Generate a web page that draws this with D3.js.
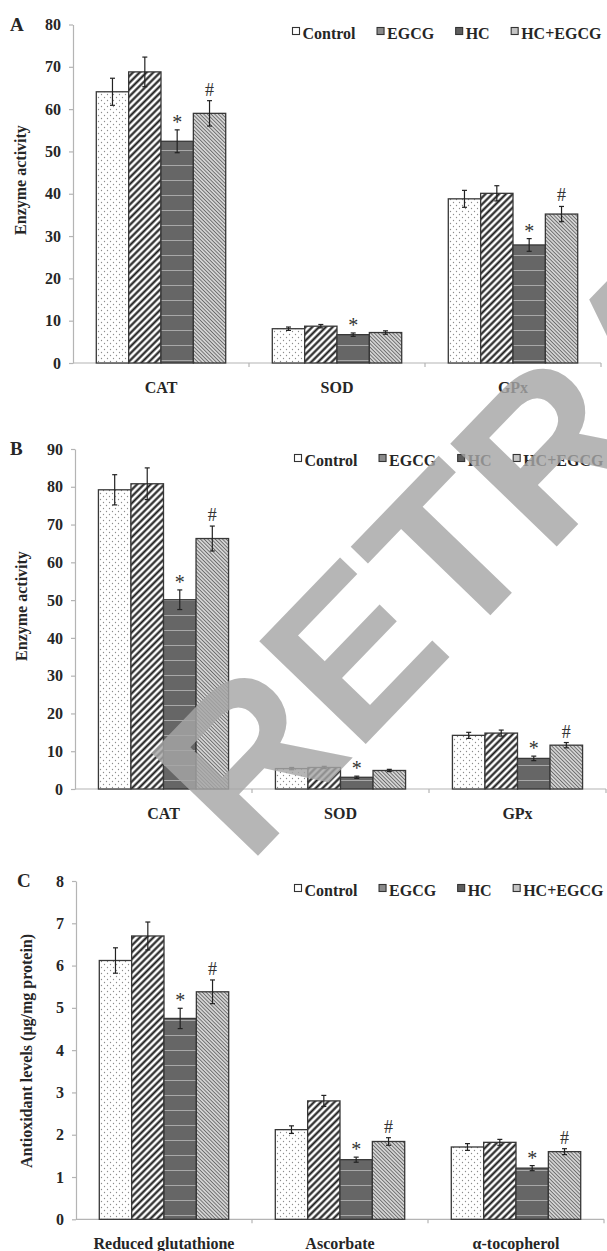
<!DOCTYPE html>
<html><head><meta charset="utf-8">
<script src="https://cdn.jsdelivr.net/npm/d3@7"></script>
<style>body{margin:0;background:#fff}svg{display:block}</style>
</head><body><svg id="c" width="607" height="1251"></svg>
<script>
// ---------- data ----------
const series = ["Control", "EGCG", "HC", "HC+EGCG"];
const catsAB = ["CAT", "SOD", "GPx"];
const catsC = ["Reduced glutathione", "Ascorbate", "α-tocopherol"];

// Panel A (enzyme activity)
const aCAT = [64.1, 68.8, 52.4, 59.0];
const aSOD = [8.1, 8.7, 6.7, 7.2];
const aGPx = [38.8, 40.1, 27.9, 35.2];
const aCATerr = [3.2, 3.5, 2.7, 3.0];
const aSODerr = [0.4, 0.4, 0.4, 0.4];
const aGPxerr = [2.0, 1.8, 1.5, 1.8];
const aMarks = [["", "", "*", "#"], ["", "", "*", ""], ["", "", "*", "#"]];
const aTicks = [0, 10, 20, 30, 40, 50, 60, 70, 80];

// Panel B (enzyme activity)
const bCAT = [79.2, 80.8, 50.1, 66.3];
const bSOD = [5.4, 5.7, 3.1, 4.9];
const bGPx = [14.2, 14.8, 8.1, 11.6];
const bCATerr = [4.0, 4.2, 2.6, 3.3];
const bSODerr = [0.3, 0.3, 0.3, 0.3];
const bGPxerr = [0.8, 0.8, 0.6, 0.7];
const bMarks = [["", "", "*", "#"], ["", "", "*", ""], ["", "", "*", "#"]];
const bTicks = [0, 10, 20, 30, 40, 50, 60, 70, 80, 90];

// Panel C (antioxidant levels)
const cGSH = [6.12, 6.70, 4.75, 5.38];
const cASC = [2.12, 2.80, 1.41, 1.84];
const cTOC = [1.71, 1.82, 1.21, 1.60];
const cGSHerr = [0.30, 0.33, 0.24, 0.28];
const cASCerr = [0.09, 0.13, 0.06, 0.09];
const cTOCerr = [0.08, 0.07, 0.06, 0.07];
const cMarks = [["", "", "*", "#"], ["", "", "*", "#"], ["", "", "*", "#"]];
const cTicks = [0, 1, 2, 3, 4, 5, 6, 7, 8];

// ---------- drawing ----------
const svg = d3.select("#c");
svg.append("rect").attr("width", 607).attr("height", 1251).attr("fill", "#fff");
const defs = svg.append("defs");
const SERIF = "'Liberation Serif','Times New Roman',serif";

// patterns
const pDots = defs.append("pattern").attr("id", "pDots").attr("patternUnits", "userSpaceOnUse").attr("width", 6).attr("height", 6);
pDots.append("rect").attr("width", 6).attr("height", 6).attr("fill", "#fff");
pDots.append("circle").attr("cx", 1.5).attr("cy", 1.5).attr("r", 0.65).attr("fill", "#8c8c8c");
pDots.append("circle").attr("cx", 4.5).attr("cy", 4.5).attr("r", 0.65).attr("fill", "#8c8c8c");

const pFwd = defs.append("pattern").attr("id", "pFwd").attr("patternUnits", "userSpaceOnUse")
  .attr("width", 4.8).attr("height", 4.8).attr("patternTransform", "rotate(45)");
pFwd.append("rect").attr("width", 4.8).attr("height", 4.8).attr("fill", "#fff");
pFwd.append("line").attr("x1", 2.4).attr("x2", 2.4).attr("y1", 0).attr("y2", 4.8).attr("stroke", "#1a1a1a").attr("stroke-width", 2.1);

const pHor = defs.append("pattern").attr("id", "pHor").attr("patternUnits", "userSpaceOnUse").attr("width", 10).attr("height", 15);
pHor.append("rect").attr("width", 10).attr("height", 15).attr("fill", "#6c6c6c");
for (let i = 2; i < 15; i += 2) {
  pHor.append("line").attr("x1", 0).attr("x2", 10).attr("y1", i).attr("y2", i).attr("stroke", "#5c5c5c").attr("stroke-width", 0.8);
}
pHor.append("line").attr("x1", 0).attr("x2", 10).attr("y1", 0.5).attr("y2", 0.5).attr("stroke", "#a8a8a8").attr("stroke-width", 1);

const pBack = defs.append("pattern").attr("id", "pBack").attr("patternUnits", "userSpaceOnUse")
  .attr("width", 2.6).attr("height", 2.6).attr("patternTransform", "rotate(-45)");
pBack.append("rect").attr("width", 2.6).attr("height", 2.6).attr("fill", "#e4e4e4");
pBack.append("line").attr("x1", 1.3).attr("x2", 1.3).attr("y1", 0).attr("y2", 2.6).attr("stroke", "#6a6a6a").attr("stroke-width", 1.1);

const fills = d3.scaleOrdinal().domain(series).range(["url(#pDots)", "url(#pFwd)", "url(#pHor)", "url(#pBack)"]);
const legendFills = d3.scaleOrdinal().domain(series).range(["#ffffff", "#8a8a8a", "#5e5e5e", "#c4c4c4"]);

function drawPanel(cfg) {
  const g = svg.append("g");
  const y = d3.scaleLinear().domain([0, cfg.ticks[cfg.ticks.length - 1]]).range([cfg.y0, cfg.yTop]);
  const x = d3.scaleBand().domain(cfg.cats).range([cfg.left, cfg.right]).paddingInner(0).paddingOuter(0);
  const xi = d3.scaleBand().domain(series).range([0, x.bandwidth()]).paddingInner(0).paddingOuter(0.72);

  // y axis
  const ax = g.append("g").attr("transform", `translate(${cfg.left},0)`)
    .call(d3.axisLeft(y).tickValues(cfg.ticks).tickSize(4).tickSizeOuter(0).tickPadding(8).tickFormat(d3.format("d")));
  ax.select(".domain").attr("stroke", "#b4b4b4").attr("stroke-width", 1.2);
  ax.selectAll(".tick line").attr("stroke", "#b4b4b4").attr("stroke-width", 1.2);
  ax.selectAll(".tick text").attr("font-family", SERIF).attr("font-weight", "bold").attr("font-size", 16).attr("fill", "#262626");

  // x axis line + boundary ticks
  g.append("line").attr("x1", cfg.left).attr("x2", cfg.right).attr("y1", cfg.y0).attr("y2", cfg.y0)
    .attr("stroke", "#b4b4b4").attr("stroke-width", 1.2);
  const bounds = cfg.cats.map(c => x(c)).concat([cfg.right]);
  g.selectAll(".xt").data(bounds.slice(1)).join("line")
    .attr("x1", d => d).attr("x2", d => d).attr("y1", cfg.y0).attr("y2", cfg.y0 + 4)
    .attr("stroke", "#b4b4b4").attr("stroke-width", 1.2);
  g.selectAll(".xl").data(cfg.cats).join("text")
    .attr("x", d => x(d) + x.bandwidth() / 2).attr("y", cfg.y0 + 30)
    .attr("text-anchor", "middle").attr("font-family", SERIF).attr("font-weight", "bold")
    .attr("font-size", 16).attr("fill", "#262626").text(d => d);

  // bars
  cfg.cats.forEach((c, ci) => {
    const vals = cfg.means[ci], errs = cfg.errs[ci], marks = cfg.marks[ci];
    const gg = g.append("g").attr("transform", `translate(${x(c)},0)`);
    gg.selectAll("rect").data(series).join("rect")
      .attr("x", s => xi(s)).attr("width", xi.bandwidth())
      .attr("y", (s, i) => y(vals[i])).attr("height", (s, i) => y(0) - y(vals[i]))
      .attr("fill", s => fills(s)).attr("stroke", "#383838").attr("stroke-width", 1.3);
    series.forEach((s, i) => {
      const cx = xi(s) + xi.bandwidth() / 2;
      const t = y(vals[i] + errs[i]), b = y(vals[i] - errs[i]);
      gg.append("line").attr("x1", cx).attr("x2", cx).attr("y1", t).attr("y2", b).attr("stroke", "#222").attr("stroke-width", 1.2);
      gg.append("line").attr("x1", cx - 2.5).attr("x2", cx + 2.5).attr("y1", t).attr("y2", t).attr("stroke", "#222").attr("stroke-width", 1.2);
      gg.append("line").attr("x1", cx - 2.5).attr("x2", cx + 2.5).attr("y1", b).attr("y2", b).attr("stroke", "#222").attr("stroke-width", 1.2);
      if (marks[i]) {
        gg.append("text").attr("x", cx).attr("y", marks[i] === "*" ? t - 1 : t - 5)
          .attr("text-anchor", "middle").attr("font-family", SERIF)
          .attr("font-size", marks[i] === "*" ? 20 : 18).attr("fill", "#333").text(marks[i]);
      }
    });
  });

  // panel letter
  g.append("text").attr("x", cfg.letterX).attr("y", cfg.yTop + 6).attr("font-family", SERIF).attr("font-weight", "bold")
    .attr("font-size", 19).attr("fill", "#262626").text(cfg.letter);

  // y title
  g.append("text").attr("transform", `translate(${cfg.titleX},${cfg.titleY}) rotate(-90)`)
    .attr("text-anchor", "middle").attr("font-family", SERIF).attr("font-weight", "bold")
    .attr("font-size", 16).attr("fill", "#262626").text(cfg.title);

  // legend
  const lg = g.append("g");
  let lx = cfg.legendX;
  series.forEach(s => {
    lg.append("rect").attr("x", lx + 0.5).attr("y", cfg.legendY - 11).attr("width", 7).attr("height", 7)
      .attr("fill", legendFills(s)).attr("stroke", "#333").attr("stroke-width", 1.1);
    const t = lg.append("text").attr("x", lx + 10.5).attr("y", cfg.legendY).attr("font-family", SERIF)
      .attr("font-weight", "bold").attr("font-size", 16).attr("fill", "#262626").text(s);
    lx += 10.5 + t.node().getComputedTextLength() + 21;
  });
}

drawPanel({letter: "A", letterX: 10, left: 73, right: 601, y0: 363, yTop: 24.5, ticks: aTicks, cats: catsAB,
  means: [aCAT, aSOD, aGPx], errs: [aCATerr, aSODerr, aGPxerr], marks: aMarks,
  title: "Enzyme activity", titleX: 26, titleY: 180, legendX: 292, legendY: 38.5});
drawPanel({letter: "B", letterX: 10, left: 75, right: 606, y0: 789, yTop: 449, ticks: bTicks, cats: catsAB,
  means: [bCAT, bSOD, bGPx], errs: [bCATerr, bSODerr, bGPxerr], marks: bMarks,
  title: "Enzyme activity", titleX: 27, titleY: 606, legendX: 294, legendY: 465.5});
drawPanel({letter: "C", letterX: 17, left: 76, right: 604, y0: 1219.3, yTop: 881, ticks: cTicks, cats: catsC,
  means: [cGSH, cASC, cTOC], errs: [cGSHerr, cASCerr, cTOCerr], marks: cMarks,
  title: "Antioxidant levels (μg/mg protein)", titleX: 32, titleY: 1051, legendX: 294, legendY: 895.5});

// watermark
svg.append("text").attr("transform", "translate(248,866) rotate(-46)")
  .attr("font-family", "'Liberation Sans',Arial,sans-serif").attr("font-weight", "bold")
  .attr("font-size", 215).attr("fill", "rgb(166,166,166)").attr("fill-opacity", 0.82).text("RETRACTED");
</script></body></html>
